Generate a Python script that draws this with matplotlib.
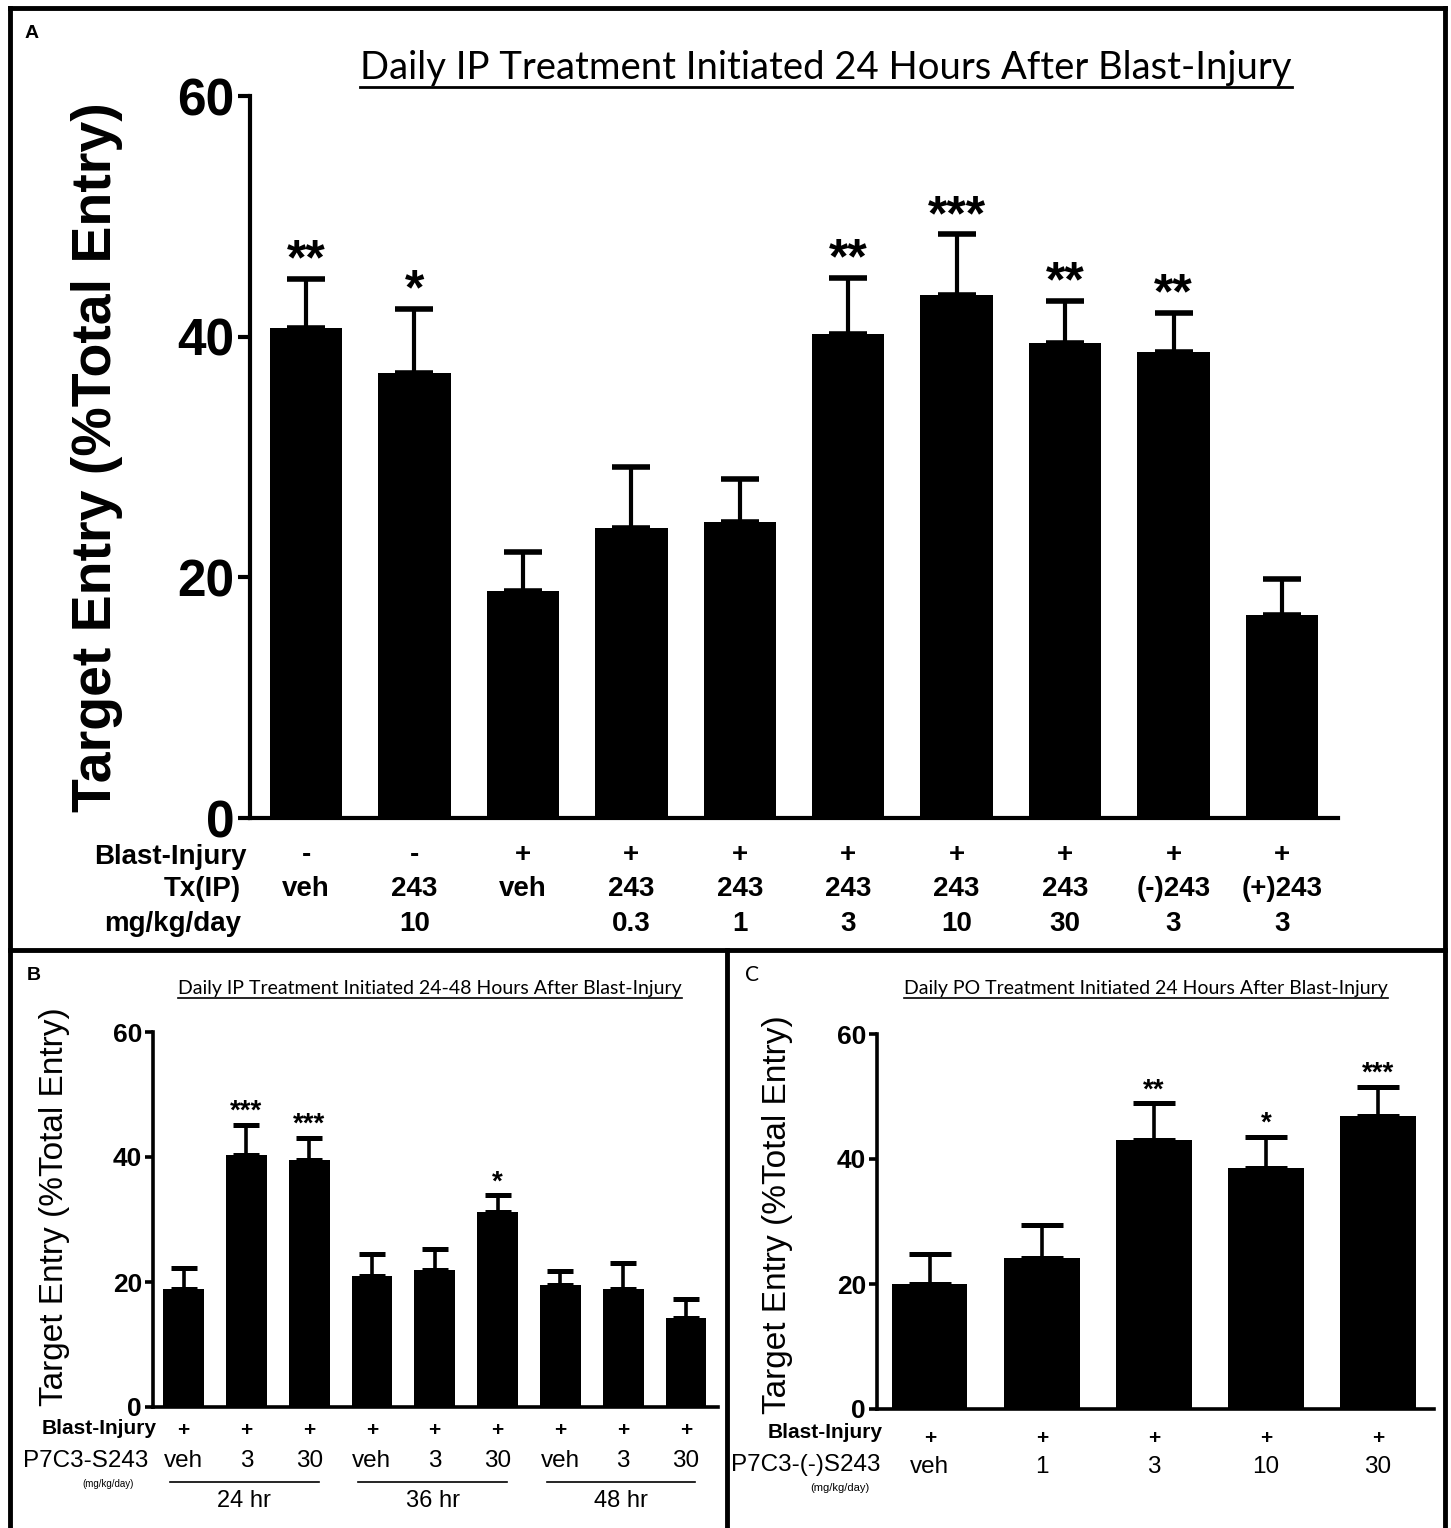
"""three bar panels: target entry after blast injury
"""

import numpy as np
import matplotlib
matplotlib.use('Agg')
from matplotlib import pyplot
from matplotlib.lines import Line2D
from matplotlib.transforms import blended_transform_factory

W, H = 1451, 1528

# panel A
means_a = [40.7, 37.0, 18.9, 24.1, 24.6, 40.2, 43.5, 39.5, 38.7, 16.9]
sem_a = [4.1, 5.3, 3.2, 5.1, 3.6, 4.7, 5.0, 3.5, 3.3, 3.0]
stars_a = ['**', '*', '', '', '', '**', '***', '**', '**', '']
blast_a = ['-', '-', '+', '+', '+', '+', '+', '+', '+', '+']
tx_a = ['veh', '243', 'veh', '243', '243', '243', '243', '243', '(-)243', '(+)243']
dose_a = ['', '10', '', '0.3', '1', '3', '10', '30', '3', '3']

# panel B
means_b = [18.9, 40.4, 39.5, 20.9, 21.9, 31.2, 19.6, 18.9, 14.2]
sem_b = [3.3, 4.8, 3.6, 3.6, 3.4, 2.7, 2.2, 4.2, 3.1]
stars_b = ['', '***', '***', '', '', '*', '', '', '']
dose_b = ['veh', '3', '30', 'veh', '3', '30', 'veh', '3', '30']
groups_b = ['24 hr', '36 hr', '48 hr']

# panel C
means_c = [20.0, 24.2, 43.0, 38.6, 46.9]
sem_c = [4.8, 5.3, 6.0, 5.0, 4.7]
stars_c = ['', '', '**', '*', '***']
dose_c = ['veh', '1', '3', '10', '30']

ticks = [0, 20, 40, 60]
ylabel = 'Target Entry (%Total Entry)'

ARIAL = ['Liberation Sans', 'DejaVu Sans']
CALIBRI = ['Lato', 'DejaVu Sans']


def px_axes(fig, left, top, right, bottom):
    """оси по пикселям"""
    return fig.add_axes([left / W, 1 - bottom / H, (right - left) / W, (bottom - top) / H])


def fy(y):
    return 1 - y / H


def bar_panel(ax, means, sem, stars, width, xlim, lw, capsize, tick_len,
              tick_font, star_size, star_off):
    x = np.arange(len(means))
    ax.bar(x, means, width, color='black', zorder=2)
    ax.errorbar(x, means, yerr=[np.zeros(len(sem)), sem], fmt='none', ecolor='black',
                elinewidth=lw, capsize=capsize, capthick=lw + 1, zorder=3)
    for xi, m, s, st in zip(x, means, sem, stars):
        if st:
            ax.annotate(st, (xi, m + s), xytext=(0, star_off), textcoords='offset points',
                        ha='center', va='baseline', fontsize=star_size,
                        family=ARIAL, fontweight='bold')
    ax.set_xlim(*xlim)
    ax.set_ylim(0, 60)
    ax.set_yticks(ticks)
    ax.set_xticks([])
    for side in ('top', 'right'):
        ax.spines[side].set_visible(False)
    for side in ('left', 'bottom'):
        ax.spines[side].set_linewidth(lw)
    ax.spines['left'].set_bounds(0, 60)
    ax.tick_params(axis='y', length=tick_len, width=lw, pad=2)
    for lab in ax.get_yticklabels():
        lab.set(**tick_font)
    ax.set_facecolor('none')
    return x


fig = pyplot.figure(figsize=(W / 100, H / 100), dpi=100)

# frames
frame_lw = 3.5
for (x0, y0, x1, y1) in [(10, 8, 1445, 8), (10, 8, 10, 1528), (1445, 8, 1445, 1528),
                         (10, 950, 1445, 950), (727, 950, 727, 1528)]:
    fig.add_artist(Line2D([x0 / W, x1 / W], [fy(y0), fy(y1)], color='black', lw=frame_lw))

# ---------- panel A
ax_a = px_axes(fig, 250, 96, 1338, 818)
xa = bar_panel(ax_a, means_a, sem_a, stars_a, 0.667, (-0.517, 9.517), 3.0, 14, 9,
               dict(family=ARIAL, fontweight='bold', fontsize=37), 36, 3)
fig.text(97 / W, fy(457), ylabel, rotation=90, ha='center', va='center',
         family=ARIAL, fontweight='bold', fontsize=40)
fig.text(25 / W, fy(33), 'A', ha='left', va='center', family=ARIAL, fontweight='bold', fontsize=14)
title_a = fig.text(826 / W, fy(68), 'Daily IP Treatment Initiated 24 Hours After Blast-Injury',
                   ha='center', va='center', family=CALIBRI, fontsize=27.5)
tr_a = blended_transform_factory(ax_a.transData, fig.transFigure)
row_font = dict(family=ARIAL, fontweight='bold', fontsize=20)
for label, y, xr in [('Blast-Injury', 857, 247), ('Tx(IP)', 889, 241), ('mg/kg/day', 924, 241)]:
    fig.text(xr / W, fy(y), label, ha='right', va='center', **row_font)
for xi, b, t, d in zip(xa, blast_a, tx_a, dose_a):
    ax_a.text(xi, fy(855), b, transform=tr_a, ha='center', va='center', **row_font)
    ax_a.text(xi, fy(889), t, transform=tr_a, ha='center', va='center', **row_font)
    ax_a.text(xi, fy(924), d, transform=tr_a, ha='center', va='center', **row_font)

# ---------- panel B
ax_b = px_axes(fig, 153, 1032, 718, 1407)
xb = bar_panel(ax_b, means_b, sem_b, stars_b, 0.65, (-0.486, 8.51), 2.6, 9.5, 6,
               dict(family=ARIAL, fontweight='bold', fontsize=19), 20, 4)
fig.text(55 / W, fy(1207), ylabel, rotation=90, ha='center', va='center',
         family=ARIAL, fontsize=24)
fig.text(27 / W, fy(975), 'B', ha='left', va='center', family=ARIAL, fontweight='bold', fontsize=14)
title_b = fig.text(430 / W, fy(988), 'Daily IP Treatment Initiated 24-48 Hours After Blast-Injury',
                   ha='center', va='center', family=CALIBRI, fontsize=14)
tr_b = blended_transform_factory(ax_b.transData, fig.transFigure)
fig.text(157 / W, fy(1428), 'Blast-Injury', ha='right', va='center', family=ARIAL,
         fontweight='bold', fontsize=15)
fig.text(148 / W, fy(1461), 'P7C3-S243', ha='right', va='center', family=ARIAL, fontsize=17.5)
fig.text(108 / W, fy(1484), '(mg/kg/day)', ha='center', va='center', family=ARIAL, fontsize=7)
for xi, d in zip(xb, dose_b):
    ax_b.text(xi, fy(1430), '+', transform=tr_b, ha='center', va='center',
              family=ARIAL, fontweight='bold', fontsize=15)
    ax_b.text(xi, fy(1461), d, transform=tr_b, ha='center', va='center', family=ARIAL, fontsize=17.5)
for gi, g in enumerate(groups_b):
    x0 = xb[3 * gi] - 0.22
    x1 = xb[3 * gi + 2] + 0.15
    ax_b.add_artist(Line2D([x0, x1], [fy(1482), fy(1482)], transform=tr_b,
                           color='black', lw=1.2, clip_on=False))
    ax_b.text((x0 + x1) / 2, fy(1501), g, transform=tr_b, ha='center', va='center',
              family=ARIAL, fontsize=17)

# ---------- panel C
ax_c = px_axes(fig, 877, 1034, 1434, 1409)
xc = bar_panel(ax_c, means_c, sem_c, stars_c, 0.67, (-0.473, 4.5), 2.6, 15, 6,
               dict(family=ARIAL, fontweight='bold', fontsize=19), 20, 4)
fig.text(778 / W, fy(1215), ylabel, rotation=90, ha='center', va='center',
         family=ARIAL, fontsize=24)
fig.text(745 / W, fy(975), 'C', ha='left', va='center', family=CALIBRI, fontsize=15)
title_c = fig.text(1146 / W, fy(988), 'Daily PO Treatment Initiated 24 Hours After Blast-Injury',
                   ha='center', va='center', family=CALIBRI, fontsize=14)
tr_c = blended_transform_factory(ax_c.transData, fig.transFigure)
fig.text(883 / W, fy(1432), 'Blast-Injury', ha='right', va='center', family=ARIAL,
         fontweight='bold', fontsize=15)
fig.text(880 / W, fy(1465), 'P7C3-(-)S243', ha='right', va='center', family=ARIAL, fontsize=17.5)
fig.text(840 / W, fy(1488), '(mg/kg/day)', ha='center', va='center', family=ARIAL, fontsize=8)
for xi, d in zip(xc, dose_c):
    ax_c.text(xi, fy(1438), '+', transform=tr_c, ha='center', va='center',
              family=ARIAL, fontweight='bold', fontsize=15)
    ax_c.text(xi, fy(1467), d, transform=tr_c, ha='center', va='center', family=ARIAL, fontsize=17.5)

# underline titles
fig.canvas.draw()
renderer = fig.canvas.get_renderer()
for t, lw in [(title_a, 2.0), (title_b, 1.2), (title_c, 1.2)]:
    bb = t.get_window_extent(renderer)
    y = bb.y0 - 1
    fig.add_artist(Line2D([bb.x0 / W, bb.x1 / W], [y / H, y / H], color='black', lw=lw))

fig.savefig('out.png', dpi=100)
